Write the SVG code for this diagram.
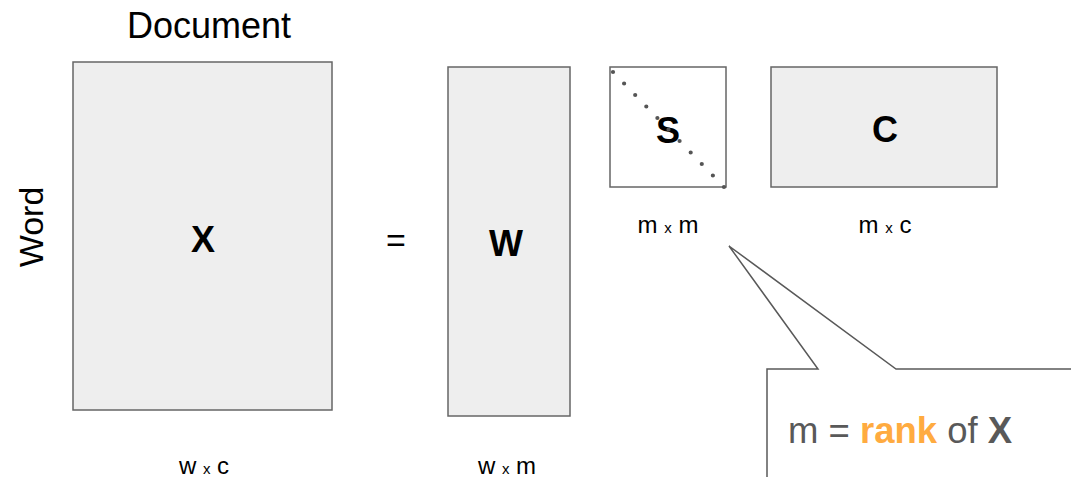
<svg xmlns="http://www.w3.org/2000/svg" width="1071" height="477" viewBox="0 0 1071 477">
  <style>
    .mat { fill: #eeeeee; stroke: #666666; stroke-width: 1.5; }
    .sq { fill: #ffffff; stroke: #666666; stroke-width: 1.5; }
    .title { font-family: "Liberation Sans", Arial, sans-serif; font-size: 36px; fill: #000000; text-anchor: middle; }
    .sym { font-family: "Liberation Sans", Arial, sans-serif; font-size: 36px; font-weight: bold; fill: #000000; text-anchor: middle; }
    .dim { font-family: "Liberation Sans", Arial, sans-serif; font-size: 24px; fill: #000000; text-anchor: middle; }
    .dim .x { font-size: 15px; }
    .note { font-family: "Liberation Sans", Arial, sans-serif; font-size: 36.5px; fill: #595959; }
  </style>
  <rect width="1071" height="477" fill="#ffffff"/>

  <text class="title" x="209" y="38">Document</text>
  <text class="title" transform="translate(43,227) rotate(-90)" style="font-size:34px">Word</text>

  <g id="matrix-x">
    <rect class="mat" x="73" y="62" width="259" height="348"/>
    <text class="sym" x="203" y="252">X</text>
    <text class="dim" x="204" y="474">w <tspan class="x">x</tspan> c</text>
  </g>

  <text class="title" x="396" y="252" style="font-size:34px">=</text>

  <g id="matrix-w">
    <rect class="mat" x="448" y="67" width="122" height="349"/>
    <text class="sym" x="506" y="256">W</text>
    <text class="dim" x="507" y="474">w <tspan class="x">x</tspan> m</text>
  </g>

  <g id="matrix-s">
    <rect class="sq" x="610" y="67" width="116" height="120"/>
    <text class="sym" x="668" y="143">S</text>
    <!-- dotted main diagonal -->
    <line x1="613" y1="72" x2="724" y2="187" stroke="#555555" stroke-width="4.2" stroke-linecap="round" stroke-dasharray="0 15.98"/>
    <text class="dim" x="668" y="233">m <tspan class="x">x</tspan> m</text>
  </g>

  <g id="matrix-c">
    <rect class="mat" x="771" y="67" width="226" height="120"/>
    <text class="sym" x="885" y="142">C</text>
    <text class="dim" x="885" y="233">m <tspan class="x">x</tspan> c</text>
  </g>

  <g id="callout">
    <path d="M767,477 L767,369 L818,369 L729,246 L896,369 L1072,369" fill="#ffffff" stroke="#595959" stroke-width="1.5"/>
    <text class="note" x="788" y="443">m = <tspan fill="#ffab40" font-weight="bold">rank</tspan> of <tspan font-weight="bold">X</tspan></text>
  </g>
</svg>
